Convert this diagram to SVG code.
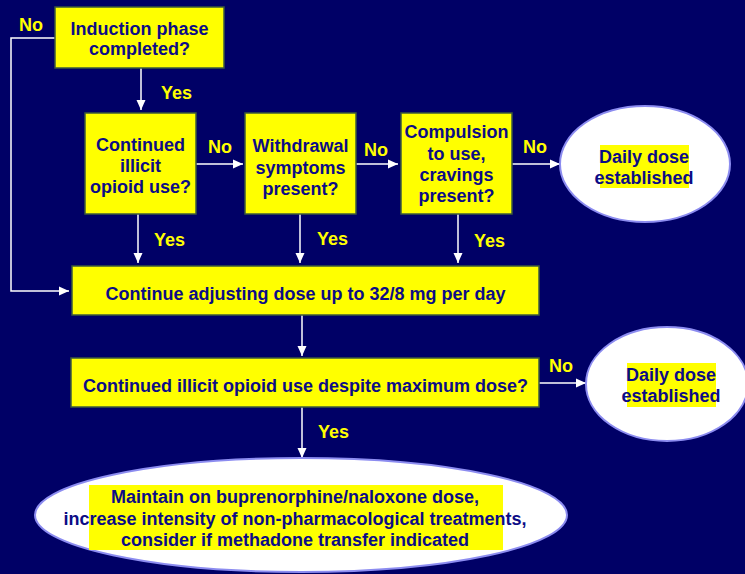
<svg xmlns="http://www.w3.org/2000/svg" width="745" height="574" viewBox="0 0 745 574">
  <defs>
    <style>
      .box { fill: #ffff00; stroke: #3c5a3c; stroke-width: 1.5; }
      .oval { fill: #ffffff; stroke: #8c8cf0; stroke-width: 2; }
      .hl { fill: #ffff00; }
      .t { font-family: "Liberation Sans", Arial, sans-serif; font-weight: bold; font-size: 18px; fill: #0c0c86; text-anchor: middle; }
      .lbl { font-family: "Liberation Sans", Arial, sans-serif; font-weight: bold; font-size: 18px; fill: #ffff00; }
      .wire { fill: none; stroke: #ffffff; stroke-width: 1.5; }
    </style>
    <marker id="arr" viewBox="0 0 10 10" refX="10" refY="5" markerWidth="10" markerHeight="10" markerUnits="userSpaceOnUse" orient="auto">
      <path d="M0,0.5 L10,5 L0,9.5 z" fill="#ffffff"/>
    </marker>
  </defs>

  <rect width="745" height="574" fill="#000066"/>

  <!-- connectors -->
  <g id="connectors">
    <path class="wire" d="M141,68 V110" marker-end="url(#arr)"/>
    <path class="wire" d="M55,38 H11 V291 H69" marker-end="url(#arr)"/>
    <path class="wire" d="M196,164 H243" marker-end="url(#arr)"/>
    <path class="wire" d="M356,164 H398" marker-end="url(#arr)"/>
    <path class="wire" d="M512,164 H560" marker-end="url(#arr)"/>
    <path class="wire" d="M138,214 V263" marker-end="url(#arr)"/>
    <path class="wire" d="M300,214 V263" marker-end="url(#arr)"/>
    <path class="wire" d="M458,214 V263" marker-end="url(#arr)"/>
    <path class="wire" d="M302,315 V356" marker-end="url(#arr)"/>
    <path class="wire" d="M539,383 H586" marker-end="url(#arr)"/>
    <path class="wire" d="M302,407 V458" marker-end="url(#arr)"/>

    <text class="lbl" x="19" y="31">No</text>
    <text class="lbl" x="161" y="99">Yes</text>
    <text class="lbl" x="208" y="153">No</text>
    <text class="lbl" x="364" y="156">No</text>
    <text class="lbl" x="523" y="153">No</text>
    <text class="lbl" x="154" y="246">Yes</text>
    <text class="lbl" x="317" y="245">Yes</text>
    <text class="lbl" x="474" y="247">Yes</text>
    <text class="lbl" x="549" y="372">No</text>
    <text class="lbl" x="318" y="438">Yes</text>
  </g>

  <g id="induction">
    <rect class="box" x="55" y="7" width="169" height="61"/>
    <text class="t" x="139.5" y="35">Induction phase</text>
    <text class="t" x="139.5" y="55">completed?</text>
  </g>

  <g id="illicit-use">
    <rect class="box" x="85" y="113" width="111" height="101"/>
    <text class="t" x="140.5" y="151">Continued</text>
    <text class="t" x="140.5" y="172">illicit</text>
    <text class="t" x="140.5" y="193">opioid use?</text>
  </g>

  <g id="withdrawal">
    <rect class="box" x="245" y="113" width="111" height="101"/>
    <text class="t" x="300.5" y="152">Withdrawal</text>
    <text class="t" x="300.5" y="174">symptoms</text>
    <text class="t" x="300.5" y="195">present?</text>
  </g>

  <g id="compulsion">
    <rect class="box" x="401" y="113" width="111" height="101"/>
    <text class="t" x="456.5" y="138">Compulsion</text>
    <text class="t" x="456.5" y="160">to use,</text>
    <text class="t" x="456.5" y="181">cravings</text>
    <text class="t" x="456.5" y="202">present?</text>
  </g>

  <g id="established-1">
    <ellipse class="oval" cx="645" cy="164" rx="85" ry="58"/>
    <rect class="hl" x="600" y="145" width="89" height="43"/>
    <text class="t" x="644" y="163">Daily dose</text>
    <text class="t" x="644" y="184">established</text>
  </g>

  <g id="adjust-dose">
    <rect class="box" x="72" y="266" width="467" height="49"/>
    <text class="t" x="305.5" y="300">Continue adjusting dose up to 32/8 mg per day</text>
  </g>

  <g id="max-dose">
    <rect class="box" x="71" y="358" width="468" height="49"/>
    <text class="t" x="305.5" y="392">Continued illicit opioid use despite maximum dose?</text>
  </g>

  <g id="established-2">
    <ellipse class="oval" cx="667" cy="384" rx="81" ry="57"/>
    <rect class="hl" x="627" y="363" width="89" height="44"/>
    <text class="t" x="671" y="381">Daily dose</text>
    <text class="t" x="671" y="402">established</text>
  </g>

  <g id="maintain">
    <ellipse class="oval" cx="301" cy="515" rx="266" ry="57"/>
    <rect class="hl" x="89" y="485" width="414" height="65"/>
    <text class="t" x="295" y="503">Maintain on buprenorphine/naloxone dose,</text>
    <text class="t" x="295" y="525">increase intensity of non-pharmacological treatments,</text>
    <text class="t" x="295" y="546">consider if methadone transfer indicated</text>
  </g>
</svg>
